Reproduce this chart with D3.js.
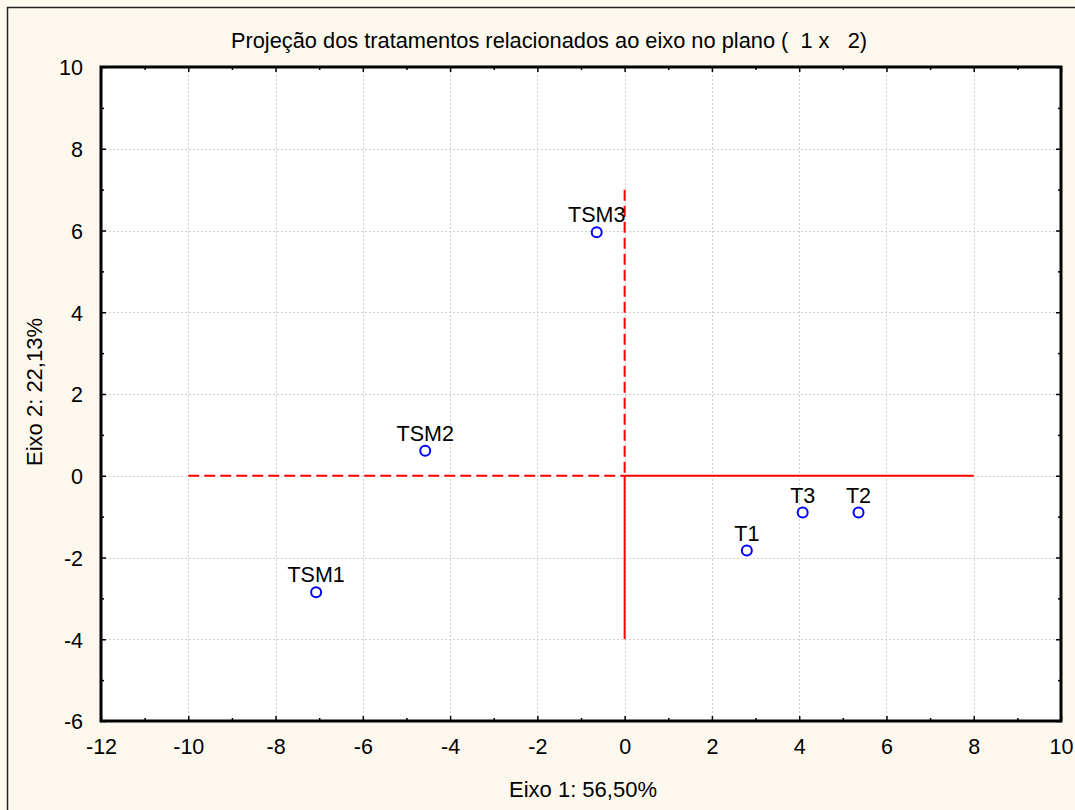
<!DOCTYPE html>
<html>
<head>
<meta charset="utf-8">
<script src="https://cdn.jsdelivr.net/npm/d3@7"></script>
<style>
  body { margin: 0; background: #fdf8ee; }
  text { font-family: "Liberation Sans", Arial, sans-serif; fill: #000; }
</style>
</head>
<body>
<svg id="chart" width="1075" height="810"></svg>
<script>
"use strict";

// treatments and their coordinates in the plane (1 x 2)
const treatments = ["TSM1", "TSM2", "TSM3", "T1", "T2", "T3"];
const eixo1 = [-7.07, -4.57, -0.64, 2.80, 5.36, 4.08];
const eixo2 = [-2.85, 0.61, 5.96, -1.83, -0.90, -0.90];

// reference axes drawn in red: [x1, y1, x2, y2, dashed]
const refLines = [
  [-10, 0, 0, 0, true],
  [0, 0, 8, 0, false],
  [0, 7, 0, 0, true],
  [0, 0, 0, -4, false],
];

const xTicks = [-12, -10, -8, -6, -4, -2, 0, 2, 4, 6, 8, 10];
const yTicks = [-6, -4, -2, 0, 2, 4, 6, 8, 10];

const title = "Projeção dos tratamentos relacionados ao eixo no plano (  1 x   2)";
const xTitle = "Eixo 1: 56,50%";
const yTitle = "Eixo 2: 22,13%";

/********/
/* view */
/********/

const svg = d3.select("#chart");
const margin = { left: 101, right: 1061, top: 67, bottom: 721 };

const x = d3.scaleLinear().domain([-12, 10]).range([margin.left, margin.right]);
const y = d3.scaleLinear().domain([-6, 10]).range([margin.bottom, margin.top]);

// plain hyphen for negatives, like the original
const fmt = d => String(d);

// outer frame
svg.append("rect")
  .attr("x", 7.5).attr("y", 7.5)
  .attr("width", 1080).attr("height", 820)
  .attr("fill", "#fdf8ee")
  .attr("stroke", "#222").attr("stroke-width", 1.5);

// plot area
svg.append("rect")
  .attr("x", margin.left).attr("y", margin.top)
  .attr("width", margin.right - margin.left)
  .attr("height", margin.bottom - margin.top)
  .attr("fill", "#fff");

// grid
const grid = svg.append("g")
  .attr("stroke", "#d0d0d0")
  .attr("stroke-width", 1)
  .attr("stroke-dasharray", "2,2");
xTicks.slice(1, -1).forEach(t => {
  grid.append("line")
    .attr("x1", Math.round(x(t)) + 0.5).attr("x2", Math.round(x(t)) + 0.5)
    .attr("y1", margin.top).attr("y2", margin.bottom);
});
yTicks.slice(1, -1).forEach(t => {
  grid.append("line")
    .attr("y1", Math.round(y(t)) + 0.5).attr("y2", Math.round(y(t)) + 0.5)
    .attr("x1", margin.left).attr("x2", margin.right);
});

// axes with inner ticks
const xMinor = d3.range(-11, 10, 2);
const yMinor = d3.range(-5, 10, 2);

function axisGroup(axis, tr) {
  const g = svg.append("g").attr("transform", tr).call(axis);
  g.select(".domain").remove();
  g.selectAll("line").attr("stroke", "#000").attr("stroke-width", 1.5);
  return g;
}

const bottom = axisGroup(
  d3.axisBottom(x).tickValues(xTicks).tickSize(-5).tickPadding(17).tickFormat(fmt),
  `translate(0,${margin.bottom})`);
bottom.selectAll("text").attr("font-size", 21.5).attr("dy", "0.75em");
axisGroup(d3.axisBottom(x).tickValues(xMinor).tickSize(-3).tickFormat(""),
  `translate(0,${margin.bottom})`);
axisGroup(d3.axisTop(x).tickValues(xTicks).tickSize(-5).tickFormat(""),
  `translate(0,${margin.top})`);
axisGroup(d3.axisTop(x).tickValues(xMinor).tickSize(-3).tickFormat(""),
  `translate(0,${margin.top})`);

const left = axisGroup(
  d3.axisLeft(y).tickValues(yTicks).tickSize(-5).tickPadding(18).tickFormat(fmt),
  `translate(${margin.left},0)`);
left.selectAll("text").attr("font-size", 21.5).attr("dy", "0.36em");
axisGroup(d3.axisLeft(y).tickValues(yMinor).tickSize(-3).tickFormat(""),
  `translate(${margin.left},0)`);
axisGroup(d3.axisRight(y).tickValues(yTicks).tickSize(-5).tickFormat(""),
  `translate(${margin.right},0)`);
axisGroup(d3.axisRight(y).tickValues(yMinor).tickSize(-3).tickFormat(""),
  `translate(${margin.right},0)`);

// plot frame
svg.append("rect")
  .attr("x", margin.left).attr("y", margin.top)
  .attr("width", margin.right - margin.left)
  .attr("height", margin.bottom - margin.top)
  .attr("fill", "none")
  .attr("stroke", "#000").attr("stroke-width", 3);

// red reference lines
svg.append("g")
  .selectAll("line")
  .data(refLines)
  .join("line")
  .attr("x1", d => x(d[0])).attr("y1", d => y(d[1]))
  .attr("x2", d => x(d[2])).attr("y2", d => y(d[3]))
  .attr("stroke", "#ff0000")
  .attr("stroke-width", 2)
  .attr("stroke-dasharray", d => (d[4] ? "11,5" : null));

// points
const pts = treatments.map((name, i) => ({ name, x: eixo1[i], y: eixo2[i] }));

svg.append("g")
  .selectAll("circle")
  .data(pts)
  .join("circle")
  .attr("cx", d => x(d.x)).attr("cy", d => y(d.y))
  .attr("r", 5)
  .attr("fill", "#fff")
  .attr("stroke", "#0000ff")
  .attr("stroke-width", 2);

svg.append("g")
  .selectAll("text")
  .data(pts)
  .join("text")
  .attr("x", d => x(d.x)).attr("y", d => y(d.y) - 10)
  .attr("text-anchor", "middle")
  .attr("font-size", 21.5)
  .text(d => d.name);

// titles
svg.append("text")
  .attr("x", 549).attr("y", 48)
  .attr("text-anchor", "middle")
  .attr("font-size", 21.8)
  .attr("xml:space", "preserve")
  .style("white-space", "pre")
  .text(title);

svg.append("text")
  .attr("x", 583).attr("y", 797)
  .attr("text-anchor", "middle")
  .attr("font-size", 22)
  .text(xTitle);

svg.append("text")
  .attr("transform", "translate(42,392) rotate(-90)")
  .attr("text-anchor", "middle")
  .attr("font-size", 22)
  .text(yTitle);
</script>
</body>
</html>
